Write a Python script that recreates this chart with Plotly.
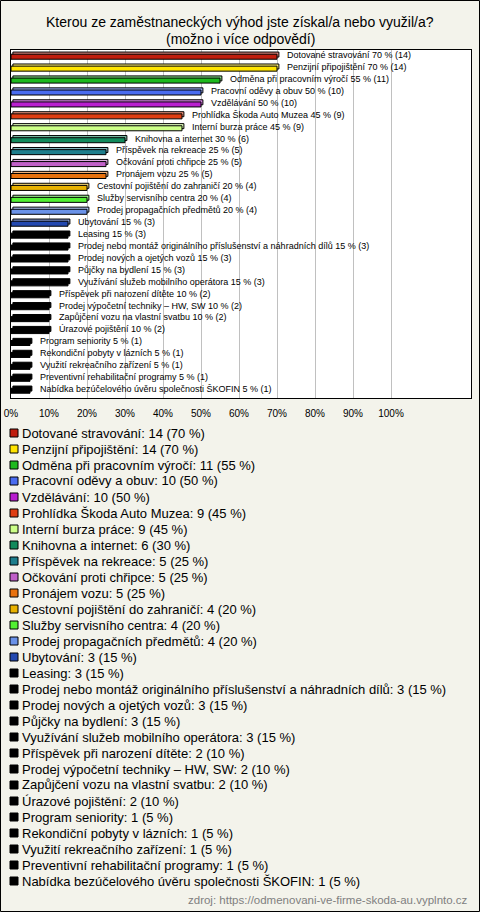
import plotly.graph_objects as go

title_line1 = "Kterou ze zaměstnaneckých výhod jste získal/a nebo využil/a?"
title_line2 = "(možno i více odpovědí)"
source_text = "zdroj: https://odmenovani-ve-firme-skoda-au.vyplnto.cz"

categories = [
    "Dotované stravování",
    "Penzijní připojištění",
    "Odměna při pracovním výročí",
    "Pracovní oděvy a obuv",
    "Vzdělávání",
    "Prohlídka Škoda Auto Muzea",
    "Interní burza práce",
    "Knihovna a internet",
    "Příspěvek na rekreace",
    "Očkování proti chřipce",
    "Pronájem vozu",
    "Cestovní pojištění do zahraničí",
    "Služby servisního centra",
    "Prodej propagačních předmětů",
    "Ubytování",
    "Leasing",
    "Prodej nebo montáž originálního příslušenství a náhradních dílů",
    "Prodej nových a ojetých vozů",
    "Půjčky na bydlení",
    "Využívání služeb mobilního operátora",
    "Příspěvek při narození dítěte",
    "Prodej výpočetní techniky – HW, SW",
    "Zapůjčení vozu na vlastní svatbu",
    "Úrazové pojištění",
    "Program seniority",
    "Rekondiční pobyty v lázních",
    "Využití rekreačního zařízení",
    "Preventivní rehabilitační programy",
    "Nabídka bezúčelového úvěru společnosti ŠKOFIN",
]
counts = [14, 14, 11, 10, 10, 9, 9, 6, 5, 5, 5, 4, 4, 4, 3, 3, 3, 3, 3, 3, 2, 2, 2, 2, 1, 1, 1, 1, 1]
percents = [70, 70, 55, 50, 50, 45, 45, 30, 25, 25, 25, 20, 20, 20, 15, 15, 15, 15, 15, 15, 10, 10, 10, 10, 5, 5, 5, 5, 5]
colors = [
    "#C01E0E", "#FFE400", "#1EB91E", "#4A6CF0", "#B91ECF", "#E03E12", "#CCFF88",
    "#128A5C", "#1E7E8C", "#C060C8", "#E8720E", "#E8B200", "#52F032", "#6A92E8",
    "#2248B0", "#000000", "#000000", "#000000", "#000000", "#000000", "#000000",
    "#000000", "#000000", "#000000", "#000000", "#000000", "#000000", "#000000",
    "#000000",
]
tick_values = [0, 10, 20, 30, 40, 50, 60, 70, 80, 90, 100]
tick_labels = ["0%", "10%", "20%", "30%", "40%", "50%", "60%", "70%", "80%", "90%", "100%"]

FW, FH = 480, 912
L, R, T, B = 11, 9, 50, 514
PW = FW - L - R
PH = FH - T - B


def xp(px):
    return (px - L) / PW


def yp(py):
    return (FH - B - py) / PH


def lighten(hexc, f=0.45):
    if hexc.lower() == "#000000":
        return "#000000"
    h = hexc.lstrip("#")
    r, g, b = int(h[0:2], 16), int(h[2:4], 16), int(h[4:6], 16)
    r = int(r + (255 - r) * f)
    g = int(g + (255 - g) * f)
    b = int(b + (255 - b) * f)
    return f"#{r:02x}{g:02x}{b:02x}"


FONT = "Liberation Sans, Arial, sans-serif"

fig = go.Figure()
# depth (3D) face
fig.add_trace(go.Bar(
    y=categories, x=percents, base=[0.5] * len(percents), orientation="h",
    width=0.42, offset=-0.33,
    marker=dict(color=[lighten(c) for c in colors], line=dict(color="#000000", width=1)),
    hoverinfo="skip", showlegend=False,
))
# front face
fig.add_trace(go.Bar(
    y=categories, x=percents, orientation="h",
    width=0.42, offset=-0.15,
    marker=dict(color=colors, line=dict(color="#000000", width=1)),
    hovertemplate="%{y}: %{x} %<extra></extra>", showlegend=False,
))

annotations = []
for cat, c, p in zip(categories, counts, percents):
    annotations.append(dict(
        x=p, y=cat, xref="x", yref="y", text=f"{cat} {p} % ({c})",
        xanchor="left", yanchor="middle", xshift=8, yshift=1, showarrow=False,
        font=dict(family=FONT, size=9, color="#000000"),
    ))

shapes = []
for i, (cat, c, p, col) in enumerate(zip(categories, counts, percents, colors)):
    yc = 433 + 16 * i
    shapes.append(dict(
        type="rect", xref="paper", yref="paper",
        x0=xp(10), x1=xp(18), y0=yp(yc - 4), y1=yp(yc + 4),
        fillcolor=col, line=dict(color="#000000", width=1),
    ))
    annotations.append(dict(
        x=xp(20), y=yp(yc), xref="paper", yref="paper", text=f"{cat}: {c} ({p} %)",
        xanchor="left", yanchor="middle", showarrow=False,
        font=dict(family=FONT, size=13, color="#000000"),
    ))

for txt, yc in ((title_line1, 22), (title_line2, 39)):
    annotations.append(dict(
        x=xp(240), y=yp(yc), xref="paper", yref="paper", text=txt,
        xanchor="center", yanchor="middle", showarrow=False,
        font=dict(family=FONT, size=14, color="#000000"),
    ))

annotations.append(dict(
    x=xp(470), y=yp(900), xref="paper", yref="paper", text=source_text,
    xanchor="right", yanchor="middle", showarrow=False,
    font=dict(family=FONT, size=11.5, color="#808080"),
))

shapes.append(dict(
    type="rect", xref="paper", yref="paper",
    x0=xp(0.5), x1=xp(479.5), y0=yp(0.5), y1=yp(911.5),
    line=dict(color="#000000", width=1), fillcolor="rgba(0,0,0,0)", layer="above",
))

fig.update_layout(
    width=FW, height=FH,
    margin=dict(l=L, r=R, t=T, b=B, pad=0),
    paper_bgcolor="#F3F3EB", plot_bgcolor="#FFFFFF",
    barmode="overlay",
    xaxis=dict(
        range=[0, PW / 3.8], tickvals=tick_values, ticktext=tick_labels,
        showgrid=True, gridcolor="#C0C0C0", gridwidth=1, zeroline=False,
        showline=True, linecolor="#000000", linewidth=1, mirror=True,
        tickfont=dict(family=FONT, size=10, color="#000000"), ticks="",
        ticklabelstandoff=6, fixedrange=True, automargin=False,
    ),
    yaxis=dict(
        autorange="reversed", showticklabels=False, showgrid=False, zeroline=False,
        showline=True, linecolor="#000000", linewidth=1, mirror=True, ticks="",
        fixedrange=True, automargin=False,
    ),
    annotations=annotations, shapes=shapes,
    showlegend=False,
)

fig.write_html(
    "out.html",
    config={"displayModeBar": False},
    post_script="document.body.style.margin='0';document.body.style.padding='0';document.body.style.overflow='hidden';",
)
